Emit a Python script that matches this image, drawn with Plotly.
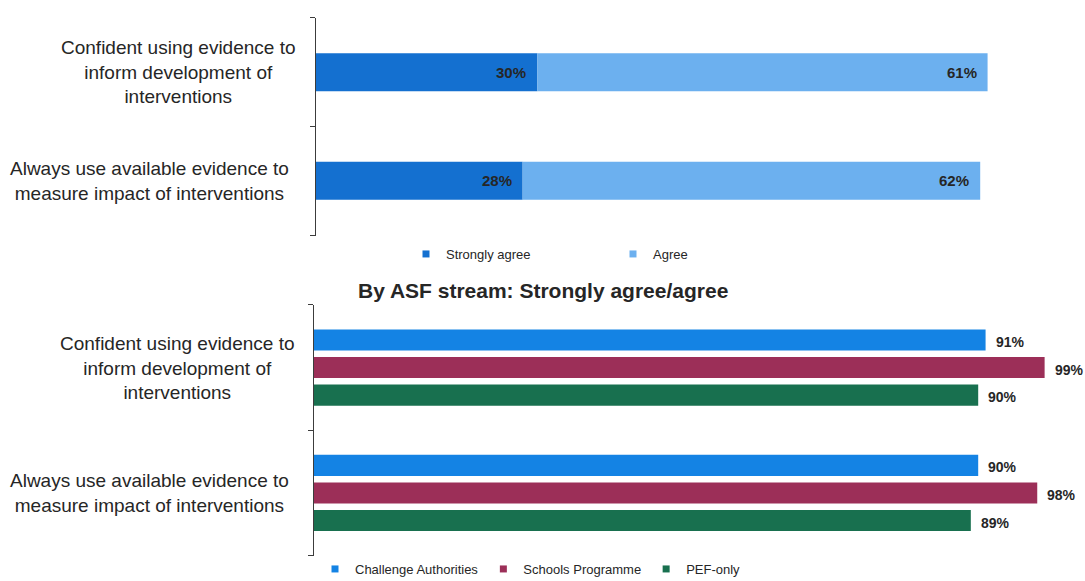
import plotly.graph_objects as go

# Survey statements (category axis) and their wrapped display labels
statements = [
    "Confident using evidence to inform development of interventions",
    "Always use available evidence to measure impact of interventions",
]
statement_labels = [
    "Confident using evidence to<br>inform development of<br>interventions",
    "Always use available evidence to<br>measure impact of interventions",
]

# Overall responses (%)
strongly_agree = [30, 28]
agree = [61, 62]

# Strongly agree/agree by ASF stream (%)
streams = ["Challenge Authorities", "Schools Programme", "PEF-only"]
challenge_authorities = [91, 90]
schools_programme = [99, 98]
pef_only = [90, 89]

W, H = 1085, 581
FONT = "Liberation Sans, Arial, sans-serif"
TEXT = "#262626"
AXIS = "#3c3c3c"

C_STRONG = "#1470d0"
C_AGREE = "#6cb0ef"
C_STREAM = ["#1483e4", "#9c2f58", "#18704f"]


def px_x(p):
    return p / W


def px_y(p):
    return 1 - p / H


fig = go.Figure()

# ---- Top chart: stacked strongly agree + agree ----
fig.add_trace(go.Bar(
    y=statements, x=strongly_agree, orientation="h",
    marker=dict(color=C_STRONG, line=dict(width=0)),
    width=0.35, offset=-0.175,
    xaxis="x", yaxis="y", showlegend=False, hoverinfo="x+y",
))
fig.add_trace(go.Bar(
    y=statements, x=agree, base=strongly_agree, orientation="h",
    marker=dict(color=C_AGREE, line=dict(width=0)),
    width=0.35, offset=-0.175,
    xaxis="x", yaxis="y", showlegend=False, hoverinfo="x+y",
))

# ---- Bottom chart: grouped by stream ----
stream_values = [challenge_authorities, schools_programme, pef_only]
bar_w = 0.168
slot = 0.22
for i, (name, vals) in enumerate(zip(streams, stream_values)):
    fig.add_trace(go.Bar(
        y=statements, x=vals, orientation="h", name=name,
        marker=dict(color=C_STREAM[i], line=dict(width=0)),
        width=bar_w, offset=(i - 1) * slot - bar_w / 2,
        xaxis="x2", yaxis="y2", showlegend=False, hoverinfo="x+y",
    ))

# ---- Legend entries with small square markers ----
for name, color in [("Strongly agree", C_STRONG), ("Agree", C_AGREE)]:
    fig.add_trace(go.Scatter(
        x=[None], y=[None], mode="markers", name=name,
        marker=dict(symbol="square", size=7, color=color),
        xaxis="x", yaxis="y", legend="legend",
    ))
for name, color in zip(streams, C_STREAM):
    fig.add_trace(go.Scatter(
        x=[None], y=[None], mode="markers", name=name,
        marker=dict(symbol="square", size=7, color=color),
        xaxis="x2", yaxis="y2", legend="legend2",
    ))

annotations = []

# Category labels, centred lines; right edge of each label block
label_right = {("y", 0): 298, ("y", 1): 291, ("y2", 0): 297, ("y2", 1): 291}
for yref in ("y", "y2"):
    for k, (cat, lab) in enumerate(zip(statements, statement_labels)):
        annotations.append(dict(
            x=px_x(label_right[(yref, k)]), xref="paper", y=cat, yref=yref,
            xanchor="right", yanchor="middle", align="center",
            text=lab, showarrow=False,
            font=dict(family=FONT, size=19, color=TEXT),
        ))

# Value labels, top chart (inside bar ends)
for cat, sa, ag in zip(statements, strongly_agree, agree):
    for xv, val in [(sa, sa), (sa + ag, ag)]:
        annotations.append(dict(
            x=xv, xref="x", y=cat, yref="y", xanchor="right", yanchor="middle",
            xshift=-9, text=f"<b>{val}%</b>", showarrow=False,
            font=dict(family=FONT, size=15, color=TEXT),
        ))

# Value labels, bottom chart (outside bar ends)
for i, vals in enumerate(stream_values):
    for j, (cat, v) in enumerate(zip(statements, vals)):
        annotations.append(dict(
            x=v, xref="x2", y=j + (i - 1) * slot, yref="y2",
            xanchor="left", yanchor="middle", xshift=8, yshift=-2,
            text=f"<b>{v}%</b>", showarrow=False,
            font=dict(family=FONT, size=14, color=TEXT),
        ))

# Sub-chart heading
annotations.append(dict(
    x=0.5, xref="paper", y=px_y(290), yref="paper",
    xanchor="center", yanchor="middle",
    text="<b>By ASF stream: Strongly agree/agree</b>", showarrow=False,
    font=dict(family=FONT, size=21, color=TEXT),
))

# Category boundaries (including both ends) get tick marks
boundaries = [-0.5, 0.5, 1.5]
yaxis_common = dict(
    type="category", categoryorder="array", categoryarray=statements,
    range=[1.503, -0.503], showline=True, linecolor=AXIS, linewidth=1,
    ticks="outside", ticklen=5, tickcolor=AXIS,
    tickmode="array", tickvals=boundaries,
    showticklabels=False, showgrid=False, zeroline=False, fixedrange=True,
)
xaxis_common = dict(
    range=[0, 100], visible=False, showgrid=False, zeroline=False, fixedrange=True,
)

fig.update_layout(
    width=W, height=H, autosize=False,
    margin=dict(l=0, r=0, t=0, b=0, autoexpand=False),
    paper_bgcolor="white", plot_bgcolor="white",
    barmode="overlay",
    font=dict(family=FONT, color=TEXT),
    xaxis=dict(domain=[px_x(316), px_x(1054)], anchor="y", **xaxis_common),
    yaxis=dict(domain=[px_y(235.5), px_y(17.5)], anchor="x", **yaxis_common),
    xaxis2=dict(domain=[px_x(314), px_x(1052)], anchor="y2", **xaxis_common),
    yaxis2=dict(domain=[px_y(556), px_y(304.5)], anchor="x2", **yaxis_common),
    legend=dict(
        orientation="h", x=px_x(406), xanchor="left", y=px_y(254), yanchor="middle",
        font=dict(family=FONT, size=13, color=TEXT), entrywidth=162,
        bgcolor="rgba(0,0,0,0)", itemclick=False, itemdoubleclick=False,
    ),
    legend2=dict(
        orientation="h", x=px_x(315), xanchor="left", y=px_y(569), yanchor="middle",
        font=dict(family=FONT, size=13, color=TEXT),
        bgcolor="rgba(0,0,0,0)", itemclick=False, itemdoubleclick=False,
    ),
    annotations=annotations,
)

fig.write_html("out.html")
